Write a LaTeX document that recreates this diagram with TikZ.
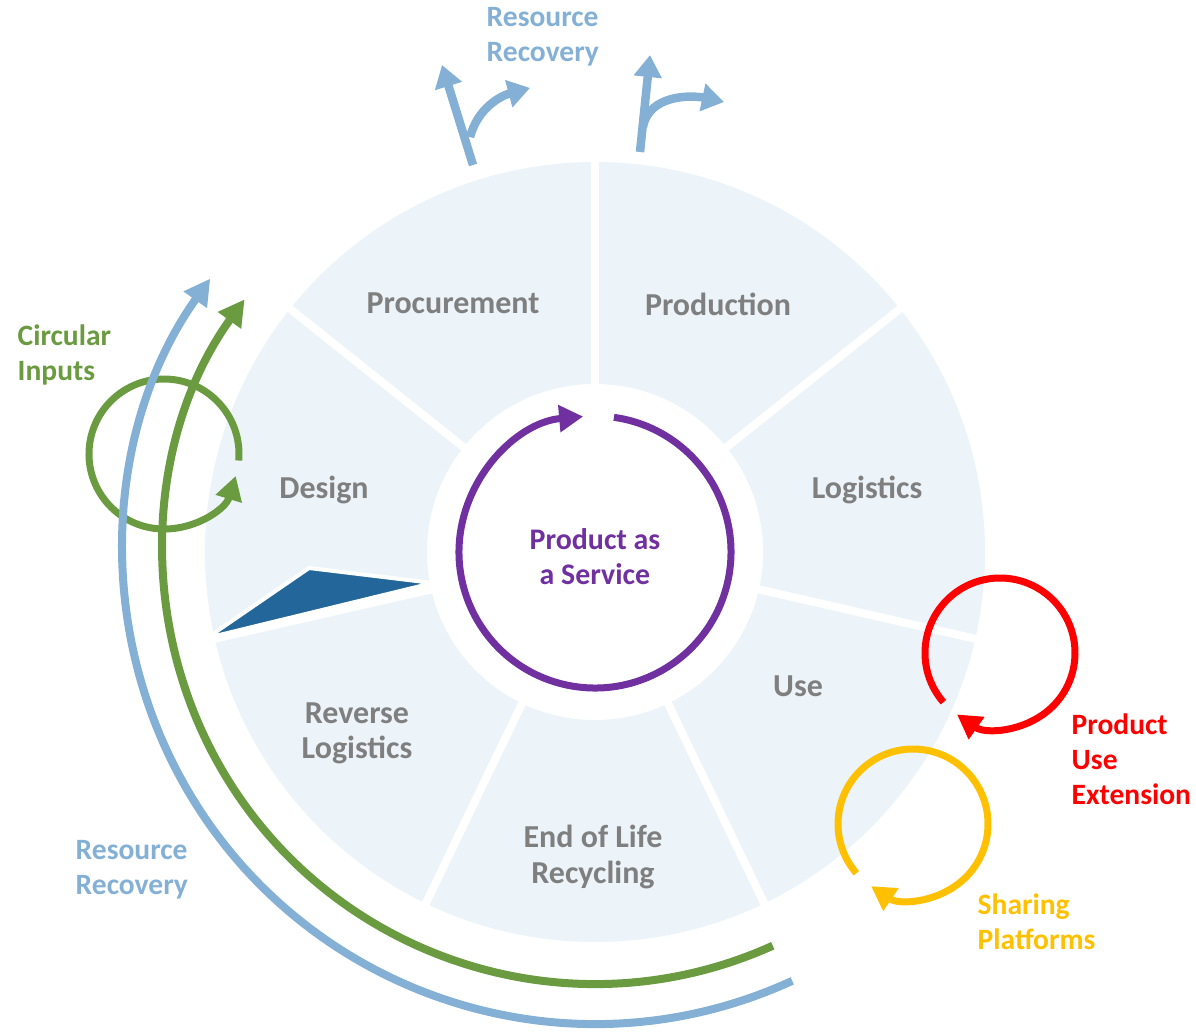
\documentclass[tikz,border=0pt]{standalone}
\usepackage{fontspec}
\setmainfont{Carlito}
\usepackage{tikz}
\usetikzlibrary{positioning}
\usetikzlibrary{arrows.meta}
\usetikzlibrary{calc}
\definecolor{segfill}{RGB}{236,244,249}
\definecolor{seggray}{RGB}{127,127,127}
\definecolor{pointer}{RGB}{35,102,153}
\definecolor{pasviolet}{RGB}{112,48,160}
\definecolor{recblue}{RGB}{132,176,214}
\definecolor{circgreen}{RGB}{106,155,64}
\definecolor{extred}{RGB}{255,0,0}
\definecolor{shareyellow}{RGB}{255,192,0}
\tikzstyle{segtext}=[font=\bfseries\fontsize{9.1}{10}\selectfont, text=seggray, align=center, inner sep=0pt]
\tikzstyle{sidetext}=[font=\bfseries\fontsize{8.4}{10}\selectfont, align=left, anchor=west, inner sep=0pt]
\tikzstyle{gapline}=[white, line width=0.08cm]
\tikzstyle{ringline}=[line width=0.07cm, -{Triangle[length=0.24cm,width=0.26cm]}]
\tikzstyle{bigarrow}=[line width=0.08cm, -{Triangle[length=0.26cm,width=0.27cm]}]
\tikzstyle{toparrow}=[recblue, line width=0.085cm, -{Triangle[length=0.22cm,width=0.27cm]}]

\begin{document}
\begin{tikzpicture}
  \useasboundingbox (-5.95,-4.81) rectangle (6.01,5.52);

  \def\R{3.90};
  \def\r{1.68};
  \def\lr{0.75};

  % wheel
  \fill[segfill] (0,0) circle (\R);
  \foreach \k in {0,...,6}
     \draw[gapline] (90+\k*51.4286:1.5) -- (90+\k*51.4286:4.0);
  \fill[white] (0,0) circle (\r);
  \filldraw[fill=pointer, draw=white, line width=0.04cm, line join=round] (-3.88,-0.86) -- (-2.86,-0.16) -- (-1.62,-0.31) -- cycle;

  \foreach \name/\x/\y/\label in {proc/-1.42/2.49/Procurement, prod/1.23/2.48/Production,
        logi/2.72/0.62/Logistics, use/2.03/-1.34/Use, eol/-0.02/-3.05/{End of Life\\Recycling},
        rev/-2.38/-1.81/{Reverse\\Logistics}, des/-2.71/0.62/Design}
     \node[segtext] (\name) at (\x,\y) {\label};

  % product as a service
  \draw[ringline, pasviolet] (82:1.36) arc[start angle=82, end angle=-265, radius=1.36];
  \node[segtext, font=\bfseries\fontsize{8.5}{10}\selectfont, text=pasviolet] (pas) at (0,-0.05) {Product as\\a Service};

  % loops
  \coordinate (ci) at (-4.31,0.98);
  \coordinate (pu) at (4.05,-1.01);
  \coordinate (sp) at (3.18,-2.72);
  \draw[ringline, circgreen] ([shift={(-5:\lr)}]ci) arc[start angle=-5, end angle=343, radius=\lr];
  \draw[ringline, extred] ([shift={(221:\lr)}]pu) arc[start angle=221, end angle=-125, radius=\lr];
  \draw[ringline, shareyellow] ([shift={(221:\lr)}]sp) arc[start angle=221, end angle=-124, radius=\lr];

  % resource recovery arcs
  \draw[bigarrow, circgreen] (-65.7:4.32) arc[start angle=-65.7, end angle=-215.8, radius=4.32];
  \draw[bigarrow, recblue] (-65.3:4.72) arc[start angle=-65.3, end angle=-215.4, radius=4.72];

  % top arrows
  \coordinate (ls) at (-1.22,3.87);
  \coordinate (lt) at (-1.53,4.87);
  \coordinate (lb) at (-1.25,4.15);
  \coordinate (le) at (-0.65,4.64);
  \coordinate (rs) at (0.45,4.00);
  \coordinate (rt) at (0.55,4.97);
  \coordinate (rb) at (0.48,4.25);
  \coordinate (re) at (1.29,4.50);
  \draw[toparrow] (ls) -- (lt);
  \draw[toparrow] (lb) to[out=75, in=195] (le);
  \draw[toparrow] (rs) -- (rt);
  \draw[toparrow] (rb) to[out=80, in=168] (re);

  \node[sidetext, text=recblue] (rrtop) at (-1.09,5.15) {Resource\\Recovery};
  \node[sidetext, text=recblue] (rrbot) at (-5.20,-3.18) {Resource\\Recovery};
  \node[sidetext, text=circgreen] (cin) at (-5.78,1.97) {Circular\\Inputs};
  \node[sidetext, text=extred] (pue) at (4.76,-2.07) {Product\\Use\\Extension};
  \node[sidetext, text=shareyellow] (shp) at (3.82,-3.70) {Sharing\\Platforms};

\end{tikzpicture}
\end{document}
